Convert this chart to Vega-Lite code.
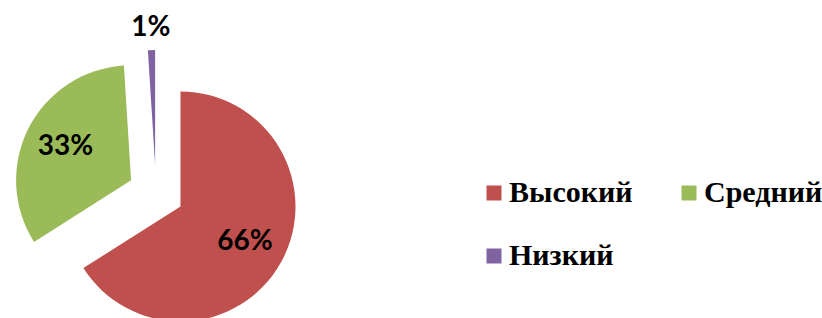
{
  "$schema": "https://vega.github.io/schema/vega-lite/v6.json",
  "width": 822,
  "height": 318,
  "padding": 0,
  "autosize": {"type": "none"},
  "background": "white",
  "config": {"view": {"stroke": null}},
  "data": {
    "values": [
      {"category": "Высокий", "percent": 66},
      {"category": "Средний", "percent": 33},
      {"category": "Низкий", "percent": 1}
    ]
  },
  "transform": [
    {"window": [{"op": "sum", "field": "percent", "as": "end"}], "frame": [null, 0]},
    {"calculate": "datum.end - datum.percent", "as": "start"},
    {"calculate": "(datum.start + datum.end) / 2 * 2 * PI / 100", "as": "mid"},
    {"calculate": "sin(datum.mid) * 0.243", "as": "cx"},
    {"calculate": "cos(datum.mid) * 0.243", "as": "cy"},
    {"calculate": "datum.percent < 5 ? 1.19 : 0.64", "as": "lr"},
    {"calculate": "datum.cx + sin(datum.mid) * datum.lr", "as": "lx"},
    {"calculate": "datum.cy + cos(datum.mid) * datum.lr", "as": "ly"},
    {"calculate": "datum.percent + '%'", "as": "label"}
  ],
  "layer": [
    {
      "mark": {"type": "arc", "radius": 115, "stroke": null},
      "encoding": {
        "x": {"field": "cx", "type": "quantitative", "scale": {"domain": [-1.3565, 5.7913], "nice": false, "zero": false}, "axis": null},
        "y": {"field": "cy", "type": "quantitative", "scale": {"domain": [-1.087, 1.678], "nice": false, "zero": false}, "axis": null},
        "theta": {"field": "start", "type": "quantitative", "scale": {"domain": [0, 100], "range": [0, 6.283185307179586]}},
        "theta2": {"field": "end"},
        "color": {
          "field": "category",
          "type": "nominal",
          "sort": ["Высокий", "Средний", "Низкий"],
          "scale": {"domain": ["Высокий", "Средний", "Низкий"], "range": ["#C0504D", "#9BBB59", "#8064A2"]},
          "legend": {
            "title": null,
            "orient": "none",
            "legendX": 479,
            "legendY": 178,
            "padding": 0,
            "direction": "horizontal",
            "columns": 2,
            "symbolType": "square",
            "symbolSize": 225,
            "symbolStrokeWidth": 0,
            "symbolOpacity": 1,
            "labelFont": "Liberation Serif",
            "labelFontWeight": "bold",
            "labelFontSize": 30,
            "labelColor": "#000000",
            "labelOffset": 0,
            "labelLimit": 300,
            "columnPadding": 41,
            "rowPadding": 33,
            "gridAlign": "each"
          }
        }
      }
    },
    {
      "mark": {"type": "text", "font": "Lato", "fontWeight": "bold", "fontSize": 28, "color": "#000000", "align": "center", "baseline": "middle"},
      "encoding": {
        "x": {"field": "lx", "type": "quantitative"},
        "y": {"field": "ly", "type": "quantitative"},
        "text": {"field": "label", "type": "nominal"}
      }
    }
  ]
}
